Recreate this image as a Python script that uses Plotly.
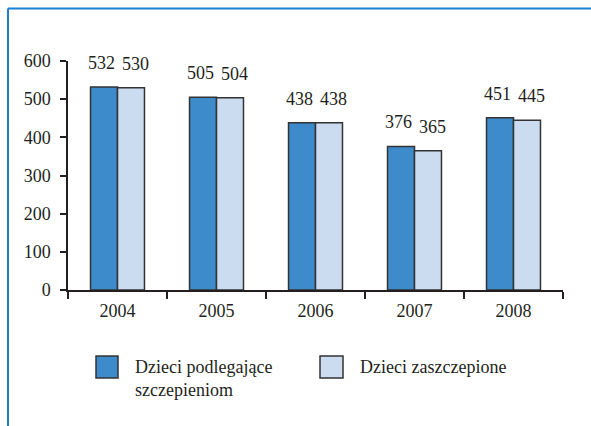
import plotly.graph_objects as go

years = ["2004", "2005", "2006", "2007", "2008"]
podlegajace = [532, 505, 438, 376, 451]
zaszczepione = [530, 504, 438, 365, 445]
series_names = ["Dzieci podlegające<br>szczepieniom", "Dzieci zaszczepione"]
y_ticks = [0, 100, 200, 300, 400, 500, 600]

DARK = "#3d8bcb"
LIGHT = "#cbdbf0"
INK = "#231f20"
FONT = "'Liberation Serif', 'DejaVu Serif', serif"

W, H = 591, 426
L, R, T, B = 68, 28, 61, 136
pw, ph = W - L - R, H - T - B


def px(x):
    return (x - L) / pw


def py(y):
    return (H - B - y) / ph


fig = go.Figure()
for vals, col, name in [(podlegajace, DARK, series_names[0]), (zaszczepione, LIGHT, series_names[1])]:
    fig.add_trace(go.Bar(x=years, y=vals, name=name, marker=dict(color=col, line=dict(color="#333333", width=1.5)),
                         showlegend=False, cliponaxis=False))

annotations = []
for i, yr in enumerate(years):
    for vals, sh in [(podlegajace, -16), (zaszczepione, 18)]:
        annotations.append(dict(x=i, y=vals[i], text=str(vals[i]), xref="x", yref="y", showarrow=False,
                                xshift=sh, yshift=24, yanchor="middle",
                                font=dict(family=FONT, size=18, color=INK)))

# legend drawn manually
shapes = [
    dict(type="rect", xref="paper", yref="paper", x0=px(96), x1=px(118), y0=py(378), y1=py(356),
         fillcolor=DARK, line=dict(color="#333333", width=1.5)),
    dict(type="rect", xref="paper", yref="paper", x0=px(320), x1=px(343), y0=py(378), y1=py(356),
         fillcolor=LIGHT, line=dict(color="#333333", width=1.5)),
    # frame
    dict(type="line", xref="paper", yref="paper", x0=px(8), x1=px(600), y0=py(8.5), y1=py(8.5),
         line=dict(color="#1a7fd0", width=2)),
    dict(type="line", xref="paper", yref="paper", x0=px(8), x1=px(8), y0=py(8.5), y1=py(440),
         line=dict(color="#1a7fd0", width=2)),
]
annotations.append(dict(x=px(133), y=py(378), xref="paper", yref="paper", text=series_names[0], showarrow=False,
                        xanchor="left", yanchor="middle", align="left",
                        font=dict(family=FONT, size=18, color=INK)))
annotations.append(dict(x=px(358), y=py(367), xref="paper", yref="paper", text=series_names[1], showarrow=False,
                        xanchor="left", yanchor="middle", align="left",
                        font=dict(family=FONT, size=18, color=INK)))

fig.update_layout(
    width=W, height=H,
    margin=dict(l=L, r=R, t=T, b=B),
    paper_bgcolor="white", plot_bgcolor="white",
    barmode="group", bargap=0.455, bargroupgap=0,
    font=dict(family=FONT, size=17, color=INK),
    shapes=shapes, annotations=annotations,
    xaxis=dict(type="category", range=[-0.5, len(years) - 0.5], showline=True, linecolor=INK, linewidth=1.5,
               ticks="outside", tickson="boundaries", ticklen=7, tickwidth=1.5, tickcolor=INK, showgrid=False,
               tickfont=dict(family=FONT, size=18, color=INK), ticklabelstandoff=4),
    yaxis=dict(range=[0, 600], tickvals=y_ticks, showline=True, linecolor=INK, linewidth=1.5,
               ticks="outside", ticklen=6, tickwidth=1.5, tickcolor=INK, showgrid=False, zeroline=False,
               tickfont=dict(family=FONT, size=18, color=INK), ticklabelstandoff=6),
)

fig.write_html("out.html")
